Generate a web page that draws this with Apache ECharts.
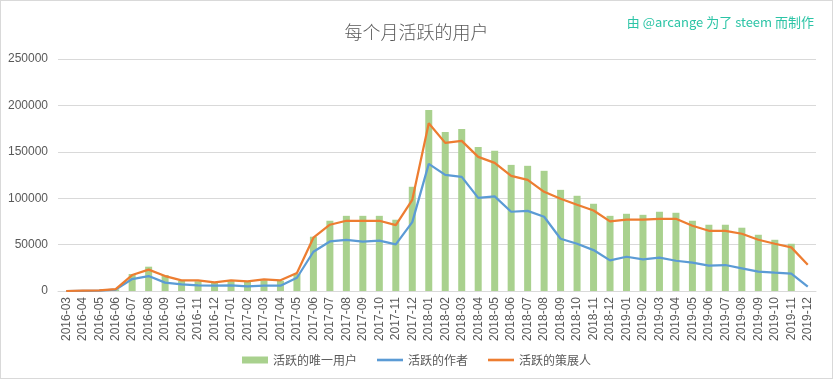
<!DOCTYPE html>
<html><head><meta charset="utf-8">
<script src="https://cdn.jsdelivr.net/npm/echarts@6/dist/echarts.min.js"></script>
<style>
html,body{margin:0;padding:0;background:#fff;}
#c{width:831px;height:377px;border:1px solid #d9d9d9;}
</style></head>
<body><div id="c"></div>
<script>
const categories = ['2016-03','2016-04','2016-05','2016-06','2016-07','2016-08','2016-09','2016-10','2016-11','2016-12',
'2017-01','2017-02','2017-03','2017-04','2017-05','2017-06','2017-07','2017-08','2017-09','2017-10','2017-11','2017-12',
'2018-01','2018-02','2018-03','2018-04','2018-05','2018-06','2018-07','2018-08','2018-09','2018-10','2018-11','2018-12',
'2019-01','2019-02','2019-03','2019-04','2019-05','2019-06','2019-07','2019-08','2019-09','2019-10','2019-11','2019-12'];
const uniqueUsers = [0,300,500,1800,18300,26200,17200,11000,10500,9000,
10500,10000,11500,11000,18500,58500,75700,81000,81000,81000,76800,112300,
195100,171400,174700,155300,151000,135900,134900,129500,109000,102600,94000,81000,
83200,82100,85400,84300,75700,71400,71400,68200,60600,55200,50900,null];
const authors = [0,200,400,1500,12900,16100,9000,7200,6100,5700,
6100,5000,5700,5700,14300,42300,53400,55200,53100,54200,50200,74200,
137000,125200,123000,100400,101900,85400,86400,80000,56300,50900,44100,33000,
36900,34100,35900,32600,30500,27300,28000,24400,20800,19700,18700,4700];
const curators = [0,500,600,2000,17200,23000,16100,11500,11500,9300,
11500,10400,12600,11500,19400,57400,71400,75700,75700,75700,71000,98300,
180800,159600,161800,144500,138100,124100,119800,106900,99400,92900,86800,75000,
76800,76800,77800,77800,70300,64900,64900,61700,55200,50900,47000,28300];
const yTicks = [0,50000,100000,150000,200000,250000];
const names = ['活跃的唯一用户','活跃的作者','活跃的策展人'];

const chart = echarts.init(document.getElementById('c'));
const txt = '#595959';
chart.setOption({
  animation:false,
  title:[{text:'每个月活跃的用户',left:'center',top:17,textStyle:{fontSize:18,fontWeight:300,color:txt,fontFamily:'Noto Sans CJK SC'}},
         {text:'由 @arcange 为了 steem 而制作',right:13,top:10,textStyle:{fontSize:13,fontWeight:'normal',color:'#2cc4a6',fontFamily:'Noto Sans CJK SC'}}],
  legend:{bottom:7,left:'center',itemGap:20,itemWidth:26,itemHeight:7,
    textStyle:{fontSize:12,color:txt,fontFamily:'Noto Sans CJK SC'},
    data:[{name:names[0],icon:'rect'},{name:names[1],icon:'path://M0,0H10V1H0Z'},{name:names[2],icon:'path://M0,0H10V1H0Z'}]},
  grid:{left:57,right:16,top:58,bottom:87},
  xAxis:{type:'category',data:categories,boundaryGap:true,
    axisLine:{lineStyle:{color:'#d9d9d9'}},axisTick:{show:false},
    axisLabel:{rotate:90,interval:0,color:txt,fontSize:12,fontFamily:'Liberation Sans',margin:6}},
  yAxis:{type:'value',min:0,max:250000,interval:50000,
    axisLine:{show:false},axisTick:{show:false},
    splitLine:{lineStyle:{color:'#d9d9d9'}},
    axisLabel:{color:txt,fontSize:12,fontFamily:'Liberation Sans',margin:10,
      formatter:v=>yTicks.includes(v)?String(v):''}},
  series:[
    {name:names[0],type:'bar',data:uniqueUsers,barWidth:7,itemStyle:{color:'#a9d18e'}},
    {name:names[1],type:'line',data:authors,symbol:'none',lineStyle:{width:2.25,color:'#5b9bd5'},itemStyle:{color:'#5b9bd5'}},
    {name:names[2],type:'line',data:curators,symbol:'none',lineStyle:{width:2.25,color:'#ed7d31'},itemStyle:{color:'#ed7d31'}}
  ]
});
</script></body></html>
